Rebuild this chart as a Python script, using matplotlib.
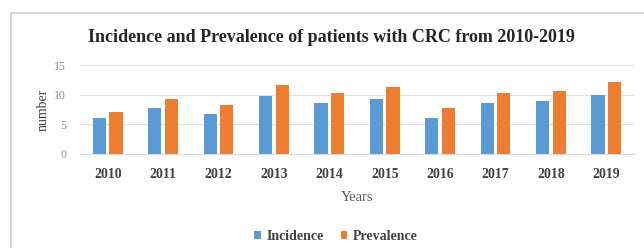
import numpy as np
import matplotlib.pyplot as plt
from matplotlib.patches import Rectangle

years = ['2010', '2011', '2012', '2013', '2014', '2015', '2016', '2017', '2018', '2019']
incidence = [6.0, 7.7, 6.8, 9.7, 8.6, 9.2, 6.0, 8.6, 9.0, 10.0]
prevalence = [7.0, 9.2, 8.3, 11.7, 10.3, 11.3, 7.8, 10.3, 10.7, 12.2]
yticks = [0, 5, 10, 15]

plt.rcParams['font.family'] = ['Liberation Serif', 'DejaVu Serif']

fig = plt.figure(figsize=(6.44, 2.48), dpi=100)
ax = fig.add_axes([80/644, 1 - 154/248, 554/644, 89/248])

x = np.arange(len(years))
w = 0.24
ax.bar(x - w/2 - 0.03, incidence, w, color='#5B9BD5', label='Incidence', zorder=3)
ax.bar(x + w/2 + 0.03, prevalence, w, color='#ED7D31', label='Prevalence', zorder=3)

ax.set_xlim(-0.5, len(years) - 0.5)
ax.set_ylim(0, 15)
ax.set_yticks(yticks)
ax.set_yticklabels([str(t) for t in yticks], color='#8a8a8a', fontsize=8.5)
ax.set_xticks(x)
ax.set_xticklabels(years, fontsize=10, fontweight='bold', color='#404040')
ax.tick_params(axis='x', length=0, pad=10)
ax.tick_params(axis='y', length=0, pad=10)
ax.grid(axis='y', color='#e0e0e0', linewidth=0.8, zorder=0)
for s in ['top', 'right', 'left']:
    ax.spines[s].set_visible(False)
ax.spines['bottom'].set_color('#d9d9d9')

ax.set_ylabel('number', fontsize=10, color='#404040', labelpad=3)
ax.set_xlabel('Years', fontsize=10.5, color='#595959', labelpad=7)
fig.text(331/644, 1 - 37/248, 'Incidence and Prevalence of patients with CRC from 2010-2019',
         ha='center', va='center', fontsize=13, fontweight='bold', color='#262626')

fig.legend(loc='center', bbox_to_anchor=(336/644, 1 - 236/248), ncol=2, frameon=False,
           prop={'family': 'Liberation Serif', 'size': 10, 'weight': 'bold'},
           handlelength=0.5, handleheight=0.5, handletextpad=0.4,
           columnspacing=1.2, labelcolor='#404040')

fig.patches.append(Rectangle((11/644, -0.1), 1.2, 1 - 13/248 + 0.1, transform=fig.transFigure,
                             fill=False, edgecolor='#d6d6d6', linewidth=1.5))

fig.savefig('out.png', dpi=100)
